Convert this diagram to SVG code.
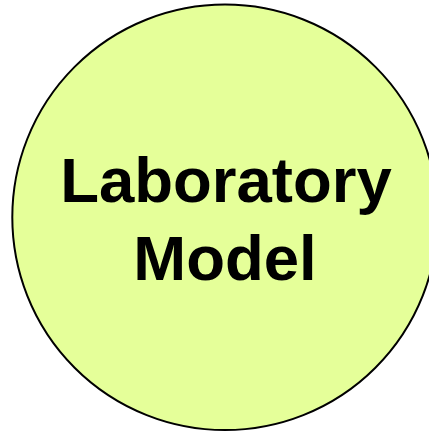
<svg xmlns="http://www.w3.org/2000/svg" width="429" height="433" viewBox="0 0 429 433">
<style>
.node{fill:#E5FF99;stroke:#000;stroke-width:2}
.label{font-family:"Liberation Sans",Arial,sans-serif;font-weight:bold;font-size:63.5px;fill:#000;text-anchor:middle}
</style>
<rect width="429" height="433" fill="#fff"/>
<g id="laboratory-model">
<circle class="node" cx="225" cy="217.3" r="212.7"/>
<text class="label" x="226" y="202">Laboratory</text>
<text class="label" x="225" y="280">Model</text>
</g>
<g id="connectors"></g>
</svg>
